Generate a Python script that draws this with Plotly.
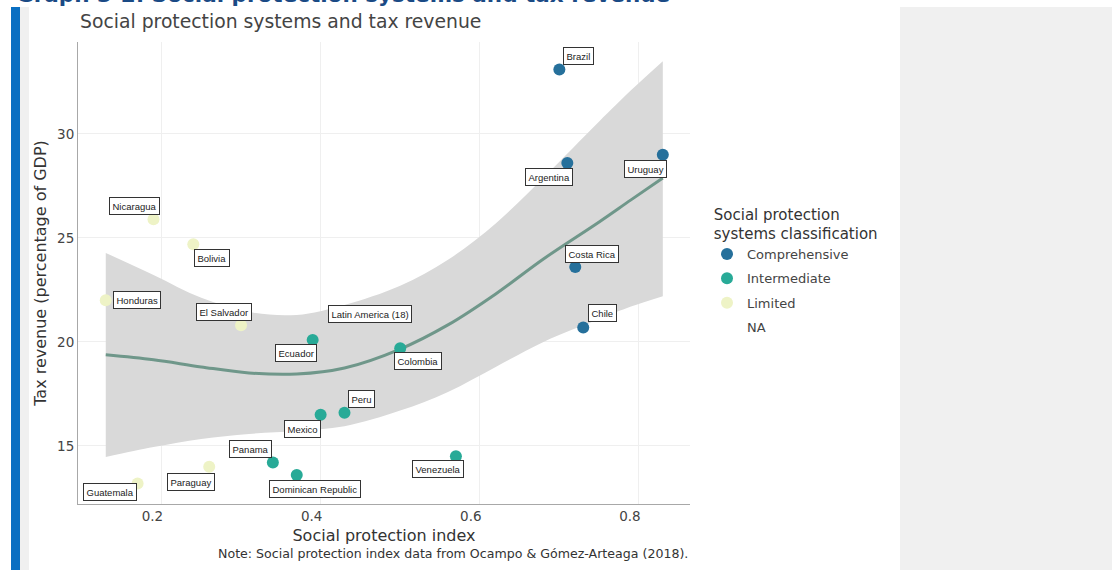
import plotly.graph_objects as go

# --- data -------------------------------------------------------------
countries = ["Brazil", "Argentina", "Uruguay", "Costa Rica", "Chile",
             "Nicaragua", "Bolivia", "Honduras", "El Salvador", "Ecuador",
             "Latin America (18)", "Colombia", "Peru", "Mexico", "Panama",
             "Dominican Republic", "Venezuela", "Paraguay", "Guatemala"]
sp_index = [0.70, 0.71, 0.83, 0.72, 0.73,
            0.19, 0.24, 0.13, 0.30, 0.39,
            0.44, 0.50, 0.43, 0.40, 0.34,
            0.37, 0.57, 0.26, 0.17]
tax_revenue = [33.1, 28.6, 29.0, 23.6, 20.7,
               25.9, 24.7, 22.0, 20.8, 20.1,
               20.7, 19.7, 16.6, 16.5, 14.2,
               13.6, 14.5, 14.0, 13.2]
classification = ["Comprehensive", "Comprehensive", "Comprehensive", "Comprehensive", "Comprehensive",
                  "Limited", "Limited", "Limited", "Limited", "Intermediate",
                  "NA", "Intermediate", "Intermediate", "Intermediate", "Intermediate",
                  "Intermediate", "Intermediate", "Limited", "Limited"]

# loess smooth with its confidence band
smooth_x = [0.13, 0.19, 0.25, 0.31, 0.37, 0.43, 0.50, 0.56, 0.62, 0.68, 0.75, 0.79, 0.83]
smooth_fit = [19.38, 19.14, 18.80, 18.51, 18.46, 18.75, 19.66, 20.82, 22.31, 23.99, 25.77, 26.83, 27.88]
smooth_upper = [24.28, 23.22, 22.12, 21.44, 21.30, 21.78, 22.70, 23.95, 25.70, 27.90, 30.60, 32.10, 33.50]
smooth_lower = [14.47, 14.95, 15.34, 15.58, 15.72, 15.95, 16.70, 17.60, 18.80, 20.00, 21.10, 21.70, 22.20]

categories = ["Comprehensive", "Intermediate", "Limited", "NA"]

# --- styling ----------------------------------------------------------
cat_colors = {"Comprehensive": "#26709b", "Intermediate": "#28aa97",
              "Limited": "#eef3c6", "NA": "rgba(0,0,0,0)"}
# label box offsets from each point (pixels)
label_offsets = {
    "Brazil": (19, -13), "Argentina": (-18, 14), "Uruguay": (-17, 14),
    "Costa Rica": (17, -13), "Chile": (19, -14), "Nicaragua": (-19, -13),
    "Bolivia": (19, 14), "Honduras": (31, 0), "El Salvador": (-17, -13),
    "Ecuador": (-17, 13), "Latin America (18)": (18, -13), "Colombia": (18, 13),
    "Peru": (17, -14), "Mexico": (-18, 14), "Panama": (-22, -14),
    "Dominican Republic": (18, 14), "Venezuela": (-18, 13),
    "Paraguay": (-18, 15), "Guatemala": (-28, 9),
}
FONT = "DejaVu Sans, Verdana, sans-serif"
W, H = 1112, 570
L, R, T, B = 78, 690, 42, 504          # plot-area pixel box


def px_x(p):
    return (p - L) / (R - L)


def px_y(p):
    return (B - p) / (B - T)


fig = go.Figure()

# confidence band
fig.add_trace(go.Scatter(x=smooth_x, y=smooth_lower, mode="lines",
                         line=dict(width=0, shape="spline", smoothing=1, color="#d9d9d9"),
                         showlegend=False, hoverinfo="skip"))
fig.add_trace(go.Scatter(x=smooth_x, y=smooth_upper, mode="lines",
                         line=dict(width=0, shape="spline", smoothing=1, color="#d9d9d9"),
                         fill="tonexty", fillcolor="#d9d9d9",
                         showlegend=False, hoverinfo="skip"))
# smooth line
fig.add_trace(go.Scatter(x=smooth_x, y=smooth_fit, mode="lines",
                         line=dict(width=3, shape="spline", smoothing=1, color="#6f978a"),
                         showlegend=False, hoverinfo="skip"))

# points by classification
for cat in categories:
    idx = [i for i, c in enumerate(classification) if c == cat]
    fig.add_trace(go.Scatter(
        x=[sp_index[i] for i in idx], y=[tax_revenue[i] for i in idx],
        mode="markers", name=cat, legendgroup=cat,
        text=[countries[i] for i in idx],
        marker=dict(size=12, color=cat_colors[cat], line=dict(width=0)),
    ))

annotations = []
for name, xv, yv in zip(countries, sp_index, tax_revenue):
    dx, dy = label_offsets[name]
    annotations.append(dict(
        x=xv, y=yv, xref="x", yref="y", text=name,
        showarrow=True, ax=dx, ay=dy, arrowcolor="rgba(0,0,0,0)",
        arrowwidth=0.5, standoff=0,
        font=dict(family="Liberation Sans, Arial, sans-serif", size=9.5, color="#222222"),
        bgcolor="white", bordercolor="#333333", borderwidth=1, borderpad=2.5,
    ))

# chart title
annotations.append(dict(
    x=0, xref="paper", xanchor="left", y=px_y(22), yref="paper", yanchor="middle",
    text="Social protection systems and tax revenue", showarrow=False,
    font=dict(family=FONT, size=18.8, color="#444444")))
# page heading above the chart
annotations.append(dict(
    x=px_x(14), xref="paper", xanchor="left", y=px_y(9), yref="paper", yanchor="bottom",
    text="<b>Graph 3-2: Social protection systems and tax revenue</b>", showarrow=False,
    font=dict(family=FONT, size=21.5, color="#1a4a85")))
# source note
annotations.append(dict(
    x=1, xref="paper", xanchor="right", y=px_y(553), yref="paper", yanchor="middle",
    text="Note: Social protection index data from Ocampo &amp; Gómez-Arteaga (2018).",
    showarrow=False, font=dict(family=FONT, size=12.6, color="#333333")))

shapes = [
    # blue side bar
    dict(type="rect", xref="paper", yref="paper", x0=px_x(11), x1=px_x(20),
         y0=px_y(H + 5), y1=px_y(7), fillcolor="#0a6fc2", line=dict(width=0), layer="below"),
    # light strip next to it
    dict(type="rect", xref="paper", yref="paper", x0=px_x(20), x1=px_x(29),
         y0=px_y(H + 5), y1=px_y(7), fillcolor="#f0f0f0", line=dict(width=0), layer="below"),
    # right-hand panel
    dict(type="rect", xref="paper", yref="paper", x0=px_x(900), x1=px_x(W + 5),
         y0=px_y(H + 5), y1=px_y(7), fillcolor="#f0f0f0", line=dict(width=0), layer="below"),
]

fig.update_layout(
    width=W, height=H,
    margin=dict(l=L, r=W - R, t=T, b=H - B, autoexpand=False),
    paper_bgcolor="white", plot_bgcolor="white",
    font=dict(family=FONT, color="#444444"),
    showlegend=True,
    legend=dict(
        x=px_x(707), xanchor="left", y=px_y(200), yanchor="top",
        title=dict(text="\u00a0Social protection<br>\u00a0systems classification",
                   font=dict(family=FONT, size=15, color="#333333")),
        font=dict(family=FONT, size=13, color="#444444"),
        tracegroupgap=4.5, bgcolor="rgba(0,0,0,0)",
    ),
    xaxis=dict(
        range=[(L - 2.3) / 795.8, (R - 2.3) / 795.8],
        tickvals=[0.2, 0.4, 0.6, 0.8], ticktext=["0.2", "0.4", "0.6", "0.8"],
        ticklabelshift=-9,
        showgrid=True, gridcolor="#efefef", zeroline=False,
        showline=True, linecolor="#a8a8a8", linewidth=1, ticks="",
        tickfont=dict(size=13.5, color="#444444"),
        title=dict(text="Social protection index", font=dict(size=16, color="#333333"),
                   standoff=6),
    ),
    yaxis=dict(
        range=[12.21, 34.42],
        tickvals=[15, 20, 25, 30],
        showgrid=True, gridcolor="#efefef", zeroline=False,
        showline=True, linecolor="#a8a8a8", linewidth=1, ticks="",
        tickfont=dict(size=13.5, color="#444444"),
        title=dict(text="Tax revenue (percentage of GDP)", font=dict(size=16, color="#333333"),
                   standoff=6),
    ),
    annotations=annotations,
    shapes=shapes,
)

fig.write_html("out.html")
